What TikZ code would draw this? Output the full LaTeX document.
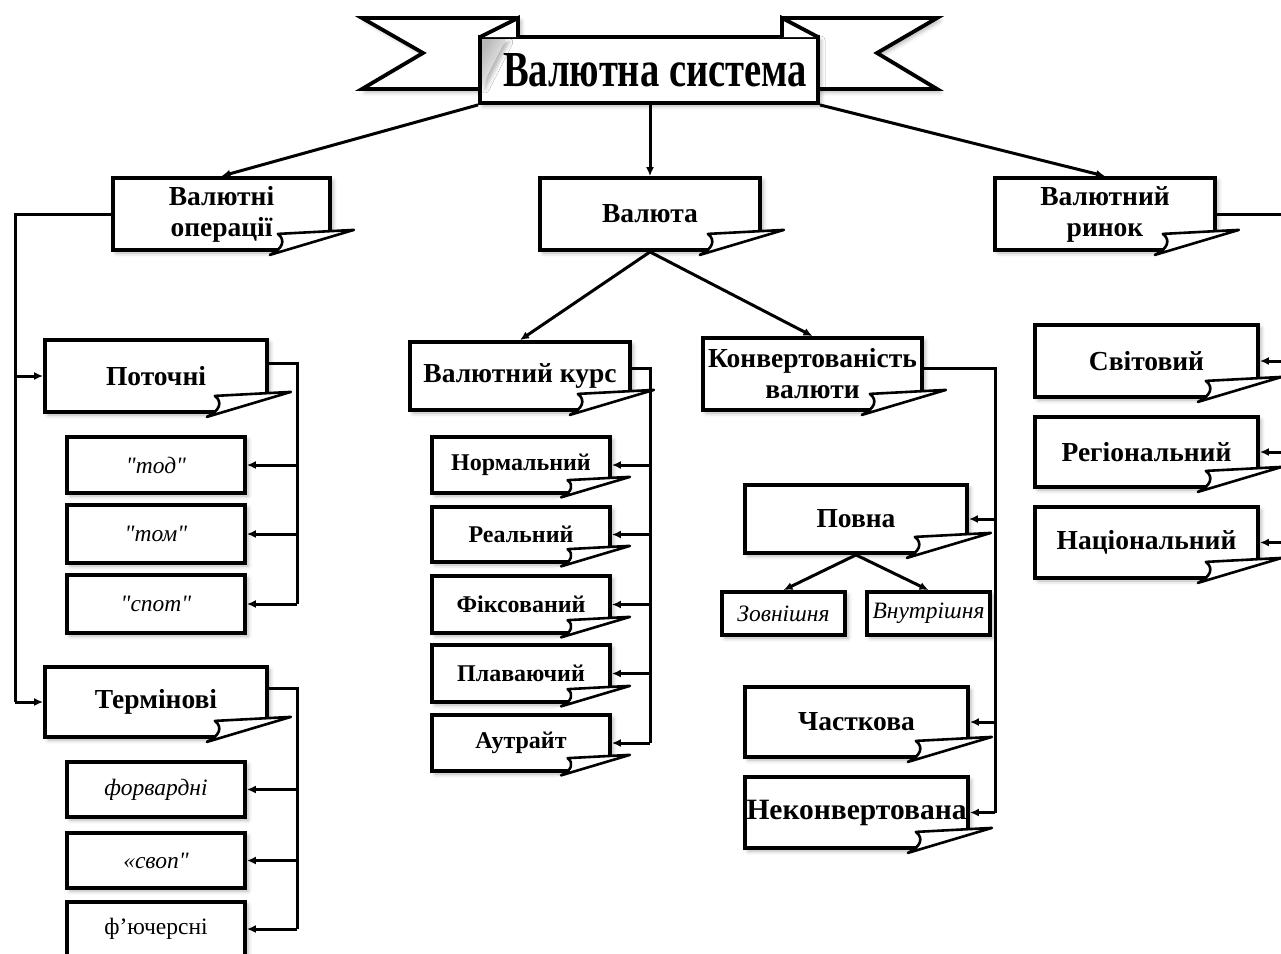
\documentclass[tikz,border=0pt]{standalone}
\usepackage{graphicx}
\usepackage{fontspec}
\setmainfont{Liberation Serif}
\usetikzlibrary{arrows.meta,calc,shadows.blur}

% straight double quote, kept away from the TeX quote mapping
\newcommand\dq{{\addfontfeatures{Ligatures=TeXOff}\symbol{34}}}

% box from corner (x1,y1) to corner (x2,y2), coordinates in pixels, y downwards
\newcommand\mkbox[7]{%
  \node[#1,minimum width={#5-#3},minimum height={#6-#4}] (#2)
    at ({(#3+#5)/2},{(#4+#6)/2}) {#7};}

% turned-up corner at the lower right of a box; optional size factor
\newcommand\pagecurl[2][1]{%
  \fill[white] ($(#2.south east)+#1*(-62,3)$) -- ($(#2.south east)+#1*(22,-22)$)
    -- ($(#2.south east)+(22,7)$) -- ($(#2.south east)+(-62,7)$) -- cycle;
  \filldraw[curl] ($(#2.south east)+#1*(-54,-18)$) -- ($(#2.south east)+#1*(22,-22)$)
    -- ($(#2.south east)+#1*(-62,3)$)
    .. controls ($(#2.south east)+#1*(-49,-3)$) and ($(#2.south east)+#1*(-46,-12)$)
    .. cycle;}

\begin{document}
\begin{tikzpicture}[x=1pt,y=-1pt,
  shade/.style={blur shadow={shadow xshift=3pt,shadow yshift=-3pt,
      shadow blur radius=4pt,shadow opacity=30}},
  lbox/.style={draw,line width=3.8pt,fill=white,inner sep=0pt,align=center,
      font=\bfseries\fontsize{27.5}{31}\selectfont,shade},
  sbox/.style={lbox,font=\bfseries\fontsize{24}{28}\selectfont},
  ibox/.style={lbox,font=\itshape\fontsize{23.5}{26}\selectfont},
  rbox/.style={lbox,font=\fontsize{23.5}{26}\selectfont},
  wbox/.style={lbox,font=\bfseries\fontsize{29.5}{32}\selectfont},
  curl/.style={fill=white,draw=black,line width=2.6pt,line join=round},
  ribbon/.style={fill=white,draw=black,line width=3.8pt,line join=miter},
  conn/.style={line width=3pt},
  arr/.style={conn,-{Latex[length=9pt,width=8pt]}}]
\useasboundingbox (0,0) rectangle (1281,953);
\clip (0,0) rectangle (1281,953);

% ---- title banner ----
\draw[ribbon,shade] (518,18) -- (362,18) -- (423,53) -- (362,89) -- (518,89) -- cycle;
\draw[ribbon,shade] (782,18) -- (937,18) -- (877,53) -- (937,89) -- (782,89) -- cycle;
\mkbox{lbox}{title}{480}{37}{818}{103}{\hspace*{12pt}\resizebox{304pt}{33pt}{\bfseries Валютна система}}
\shade[left color=gray!55,right color=white,shading angle=60]
  (482,39) -- (506,39) -- (482,86) -- cycle;
\draw[ribbon] (480,37) -- (518,18) -- (518,37);
\draw[ribbon] (818,37) -- (782,18) -- (782,37);

% ---- second level ----
\mkbox{lbox}{vo}{113}{178}{330}{250}{Валютні\\операції}
\mkbox{lbox}{val}{540}{178}{760}{250}{Валюта}
\mkbox{lbox}{vr}{995}{178}{1215}{250}{Валютний\\ринок}

% ---- currency operations ----
\mkbox{lbox}{pot}{45}{340}{267}{412}{Поточні}
\mkbox{ibox}{tod}{67}{437}{245}{493}{\dq тод\dq}
\mkbox{ibox}{tom}{67}{505}{245}{563}{\dq том\dq}
\mkbox{ibox}{spot}{67}{575}{245}{633}{\dq спот\dq}
\mkbox{lbox}{term}{45}{667}{267}{737}{Термінові}
\mkbox{ibox}{forw}{67}{762}{245}{817}{форвардні}
\mkbox{ibox}{svop}{67}{833}{245}{888}{«своп\dq}
\mkbox{rbox}{fut}{67}{902}{245}{956}{ф’ючерсні}

% ---- exchange rate ----
\mkbox{lbox}{vk}{410}{342}{630}{410}{Валютний курс}
\mkbox{sbox}{norm}{432}{437}{610}{493}{Нормальний}
\mkbox{sbox}{real}{432}{507}{610}{562}{Реальний}
\mkbox{sbox}{fix}{432}{576}{610}{633}{Фіксований}
\mkbox{sbox}{plav}{432}{645}{610}{702}{Плаваючий}
\mkbox{sbox}{aut}{432}{715}{610}{771}{Аутрайт}

% ---- convertibility ----
\mkbox{lbox}{kv}{703}{338}{922}{410}{Конвертованість\\валюти}
\mkbox{lbox}{povna}{745}{485}{967}{553}{Повна}
\mkbox{ibox}{zovn}{722}{592}{845}{635}{Зовнішня}
\mkbox{ibox}{vnut}{867}{592}{990}{635}{Внутрішня}
\mkbox{lbox}{chast}{745}{687}{968}{757}{Часткова}
\mkbox{wbox}{nekon}{745}{777}{968}{848}{Неконвертована}

% ---- currency market ----
\mkbox{lbox}{svit}{1035}{325}{1258}{397}{Світовий}
\mkbox{lbox}{reg}{1035}{417}{1258}{487}{Регіональний}
\mkbox{lbox}{nat}{1035}{507}{1258}{578}{Національний}

% ---- turned-up corners ----
\foreach \b in {vo,val,vr,pot,term,vk,kv,povna,chast,nekon,svit,reg,nat}
  {\pagecurl{\b}}
\foreach \b in {norm,real,fix,plav,aut}
  {\pagecurl[0.82]{\b}}

% ---- connectors ----
\draw[arr] (title.south west) -- (vo.north);
\draw[arr] (val.north |- title.south) -- (val.north);
\draw[arr] (title.south east) -- (vr.north);
\draw[arr] (val.south) -- (vk.north);
\draw[arr] (val.south) -- (kv.north);
\draw[arr] (povna.south) -- (zovn.north);
\draw[arr] (povna.south) -- (vnut.north);

\coordinate (busL) at (15,0);
\draw[conn] (vo.west) -| (busL |- term.west);
\foreach \t in {pot,term} \draw[arr] (busL |- \t.west) -- (\t.west);

\coordinate (busP) at (297,0);
\draw[conn] ([yshift=13pt]pot.east) -| (busP |- spot.east);
\foreach \t in {tod,tom,spot} \draw[arr] (busP |- \t.east) -- (\t.east);
\draw[conn] ([yshift=14pt]term.east) -| (busP |- fut.east);
\foreach \t in {forw,svop,fut} \draw[arr] (busP |- \t.east) -- (\t.east);

\coordinate (busK) at (650,0);
\draw[conn] ([yshift=8pt]vk.east) -| (busK |- aut.east);
\foreach \t in {norm,real,fix,plav,aut} \draw[arr] (busK |- \t.east) -- (\t.east);

\coordinate (busC) at (995,0);
\draw[conn] ([yshift=6pt]kv.east) -| (busC |- nekon.east);
\foreach \t in {povna,chast,nekon} \draw[arr] (busC |- \t.east) -- (\t.east);

\coordinate (busR) at (1290,0);
\draw[conn] (vr.east) -| (busR |- nat.east);
\foreach \t in {svit,reg,nat} \draw[arr] (busR |- \t.east) -- (\t.east);
\end{tikzpicture}
\end{document}
